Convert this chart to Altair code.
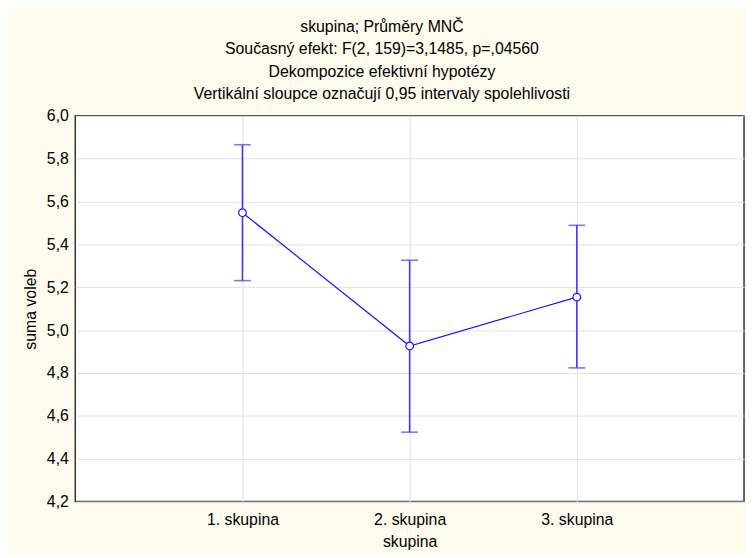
import altair as alt
import pandas as pd

groups = ["1. skupina", "2. skupina", "3. skupina"]
means = [5.548, 4.926, 5.154]
lower = [5.231, 4.524, 4.824]
upper = [5.865, 5.326, 5.489]

df = pd.DataFrame({"skupina": groups, "mean": means, "lo": lower, "hi": upper})

FONT = "Liberation Sans"
BLUE_LINE = "#1414ff"
BLUE_BAR = "#3a3aff"

xenc = alt.X(
    "skupina:O",
    scale=alt.Scale(type="point", padding=1),
    sort=groups,
    axis=alt.Axis(
        title="skupina",
        labelAngle=0,
        ticks=False,
        labelPadding=10,
        titlePadding=6,
        grid=True,
        gridColor="#e2e2e2",
        domain=False,
    ),
)
yscale = alt.Scale(domain=[4.2, 6.0], nice=False, zero=False)
yaxis = alt.Axis(
    title="suma voleb",
    values=[4.2, 4.4, 4.6, 4.8, 5.0, 5.2, 5.4, 5.6, 5.8, 6.0],
    labelExpr="replace(format(datum.value, '.1f'), '.', ',')",
    ticks=False,
    labelPadding=7,
    titlePadding=8,
    grid=True,
    gridColor="#e2e2e2",
    domain=False,
)

base = alt.Chart(df)

line = base.mark_line(color=BLUE_LINE, strokeWidth=1.2).encode(
    x=xenc, y=alt.Y("mean:Q", scale=yscale, axis=yaxis)
)
rule = base.mark_rule(color=BLUE_BAR, strokeWidth=1.6).encode(
    x=alt.X("skupina:O", sort=groups), y=alt.Y("lo:Q"), y2="hi:Q"
)
cap_lo = base.mark_tick(color=BLUE_BAR, size=17, thickness=1.6).encode(
    x=alt.X("skupina:O", sort=groups), y=alt.Y("lo:Q")
)
cap_hi = base.mark_tick(color=BLUE_BAR, size=17, thickness=1.6).encode(
    x=alt.X("skupina:O", sort=groups), y=alt.Y("hi:Q")
)
pts = base.mark_point(
    filled=True, fill="white", stroke=BLUE_LINE, strokeWidth=1.2, size=60, shape="circle", opacity=1
).encode(x=alt.X("skupina:O", sort=groups), y=alt.Y("mean:Q"))

chart = (
    alt.layer(line, rule, cap_lo, cap_hi, pts)
    .properties(
        width=676,
        height=390,
        title=alt.TitleParams(
            text=[
                "skupina; Průměry MNČ",
                "Současný efekt: F(2, 159)=3,1485, p=,04560",
                "Dekompozice efektivní hypotézy",
                "Vertikální sloupce označují 0,95 intervaly spolehlivosti",
            ],
            fontSize=16,
            font=FONT,
            fontWeight="normal",
            color="black",
            lineHeight=22.5,
            anchor="middle",
            dx=-28,
            offset=6,
        ),
        background="#fffaee",
        autosize=alt.AutoSizeParams(type="none"),
        padding={"left": 68, "top": 106, "right": 2, "bottom": 50},
    )
    .configure_view(fill="white", stroke="#333333", strokeWidth=1.5)
    .configure_axis(
        labelFont=FONT,
        titleFont=FONT,
        labelFontSize=16,
        titleFontSize=16,
        titleFontWeight="normal",
        labelColor="black",
        titleColor="black",
    )
)

chart.save("out.html", embed_options={"renderer": "svg", "actions": False})
